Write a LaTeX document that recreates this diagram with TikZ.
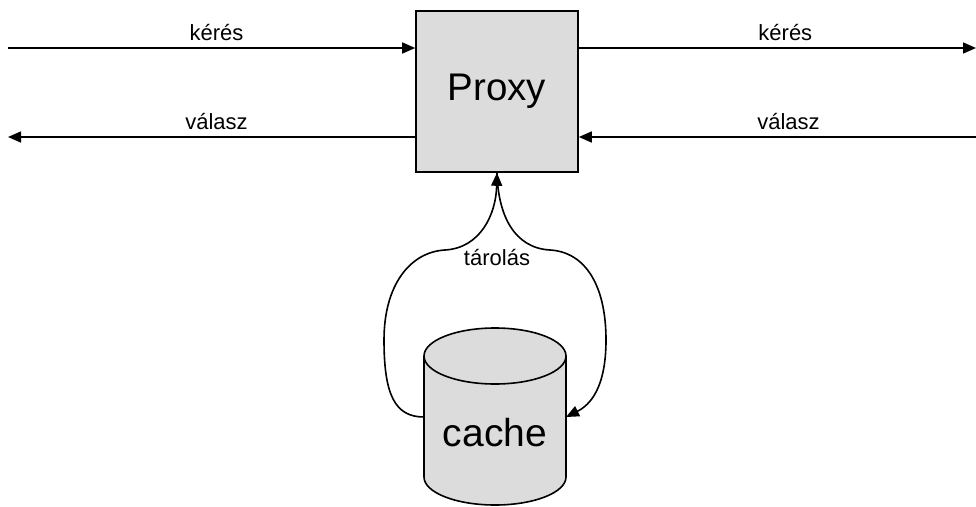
\documentclass[tikz,border=0pt]{standalone}
\usepackage{fontspec}
\setmainfont{Liberation Sans}
\usetikzlibrary{arrows.meta}

\definecolor{boxgray}{HTML}{DCDCDC}

\tikzset{
  line/.style={line width=1.6pt, draw=black},
  arr/.style={line, -{Triangle[length=13pt,width=11pt]}},
  proxybox/.style={draw=black, line width=1.6pt, fill=boxgray, rectangle,
    minimum width=162pt, minimum height=161pt, inner sep=0pt,
    font=\fontsize{38.5}{40}\selectfont},
  lbl/.style={font=\fontsize{22}{24}\selectfont, inner sep=0pt},
  bigtext/.style={font=\fontsize{39}{41}\selectfont, inner sep=0pt}
}

\begin{document}
\begin{tikzpicture}[x=1pt,y=1pt]
  \useasboundingbox (0,0) rectangle (976,-506);

  % proxy server
  \node[proxybox] (proxy) at (497,-91.5) {Proxy};

  % free ends of the request / response lines
  \coordinate (inL)  at (8,-48);
  \coordinate (outR) at (976,-48);
  \coordinate (retL) at (8,-137);
  \coordinate (retR) at (976,-137);

  % request: client -> proxy -> server
  \draw[arr] (inL) -- node[lbl, pos=0.512, above=6pt] {kérés} (inL -| proxy.west);
  \draw[arr] (outR -| proxy.east) -- node[lbl, pos=0.52, above=6pt] {kérés} (outR);

  % response: server -> proxy -> client
  \draw[arr] (retR) -- node[lbl, pos=0.472, above=6pt] {válasz} (retR -| proxy.east);
  \draw[arr] (retL -| proxy.west) -- node[lbl, pos=0.488, above=6pt] {válasz} (retL);

  % cache cylinder
  \fill[boxgray] (424,-356) -- (424,-477)
    arc[start angle=180, end angle=360, x radius=71pt, y radius=28pt]
    -- (566,-356)
    arc[start angle=0, end angle=180, x radius=71pt, y radius=28pt] -- cycle;
  \draw[line] (424,-356) -- (424,-477)
    arc[start angle=180, end angle=360, x radius=71pt, y radius=28pt]
    -- (566,-356);
  \draw[line] (495,-356) ellipse[x radius=71pt, y radius=28pt];
  \node[bigtext] (cache) at (495,-433) {cache};
  \coordinate (cacheL) at (424,-417);
  \coordinate (cacheR) at (566,-417);

  % storing loop between cache and proxy
  \node[lbl] (store) at (497,-258) {tárolás};
  \draw[arr] (cacheL) .. controls (395,-417) and (384,-395) .. (384,-340)
    .. controls (384,-285) and (410,-252) .. (445,-250)
    .. controls (480,-248) and (496,-215) .. (proxy.south);
  \draw[arr] (proxy.south) .. controls (498,-215) and (514,-248) .. (550,-250)
    .. controls (585,-252) and (606,-285) .. (606,-340)
    .. controls (606,-388) and (590,-405) .. (cacheR);
\end{tikzpicture}
\end{document}
